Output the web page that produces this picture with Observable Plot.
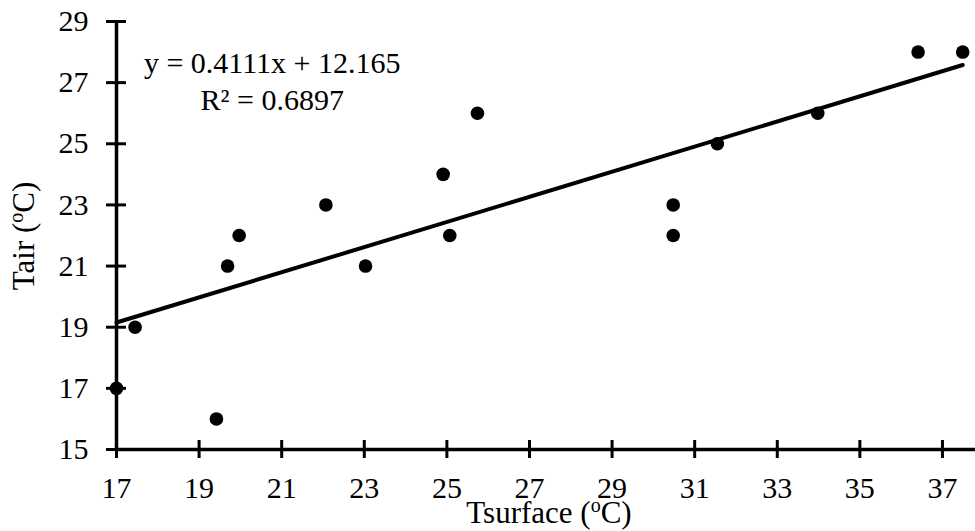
<!DOCTYPE html>
<html><head><meta charset="utf-8">
<script src="https://cdn.jsdelivr.net/npm/d3@7"></script>
<script src="https://cdn.jsdelivr.net/npm/@observablehq/plot@0.6"></script>
<style>body{margin:0;background:#fff} svg{display:block} svg text{font-family:"Liberation Serif","Times New Roman",serif !important}</style>
</head><body><div id="chart"></div>
<script>
const tsurface = [17.0, 17.45, 19.42, 19.69, 19.97, 22.07, 23.03, 24.91, 25.07, 25.74, 30.48, 30.48, 31.55, 33.98, 36.41, 37.49];
const tair =     [17,   19,    16,    21,    22,    23,    21,    24,    22,    26,    23,    22,    25,    26,    28,    28];
const xTicks = [17, 19, 21, 23, 25, 27, 29, 31, 33, 35, 37];
const yTicks = [15, 17, 19, 21, 23, 25, 27, 29];
const slope = 0.4111, intercept = 12.165;
const equationLabels = ["y = 0.4111x + 12.165", "R² = 0.6897"];
const xLabelParts = ["Tsurface (", "o", "C)"];
const yLabelParts = ["Tair (", "o", "C)"];

const points = tsurface.map((x, i) => ({x, y: tair[i]}));
const xr = d3.extent(tsurface);
const fit = xr.map(x => ({x, y: slope * x + intercept}));

const font = "Liberation Serif";
const chart = Plot.plot({
  width: 975, height: 531,
  marginLeft: 116, marginRight: 0, marginTop: 21, marginBottom: 82,
  style: {fontFamily: font, fontSize: "30px", color: "#000", background: "#fff"},
  x: {domain: [17, 37.8]},
  y: {domain: [15, 29]},
  marks: [
    Plot.line(fit, {x: "x", y: "y", stroke: "#000", strokeWidth: 4}),
    Plot.dot(points, {x: "x", y: "y", r: 6.8, fill: "#000"}),
    Plot.ruleX([17], {stroke: "#000", strokeWidth: 3.5}),
    Plot.ruleY([15], {stroke: "#000", strokeWidth: 3.5}),
    Plot.axisX({ticks: xTicks, tickSize: 18, dy: -9, tickFormat: () => "", strokeWidth: 3, label: null}),
    Plot.axisY({ticks: yTicks, tickSize: 20, dx: 10, tickFormat: () => "", strokeWidth: 3, label: null}),
    Plot.axisX({ticks: xTicks, tickSize: 0, tickPadding: 27, fontSize: 30, label: null}),
    Plot.axisY({ticks: yTicks, tickSize: 0, tickPadding: 28, fontSize: 30, label: null}),
    Plot.text([equationLabels[0]], {x: 20.77, y: 27.3, text: d => d, fontSize: 30, textAnchor: "middle", lineAnchor: "bottom", fill: "#000"}),
    Plot.text([equationLabels[1]], {x: 20.77, y: 26.12, text: d => d, fontSize: 30, textAnchor: "middle", lineAnchor: "bottom", fill: "#000"})
  ]
});
chart.setAttribute("font-family", font);
document.getElementById("chart").appendChild(chart);

const svg = d3.select(chart);
function addLabel(parts, attrs) {
  const t = svg.append("text").attr("font-family", font).attr("font-size", 31).attr("fill", "#000");
  for (const [k, v] of Object.entries(attrs)) t.attr(k, v);
  t.append("tspan").text(parts[0]);
  t.append("tspan").text(parts[1]).attr("font-size", 20).attr("baseline-shift", "super");
  t.append("tspan").text(parts[2]);
}
addLabel(xLabelParts, {x: 549, y: 523, "text-anchor": "middle"});
addLabel(yLabelParts, {transform: "translate(34,236) rotate(-90)", "text-anchor": "middle"});
</script>
</body></html>
